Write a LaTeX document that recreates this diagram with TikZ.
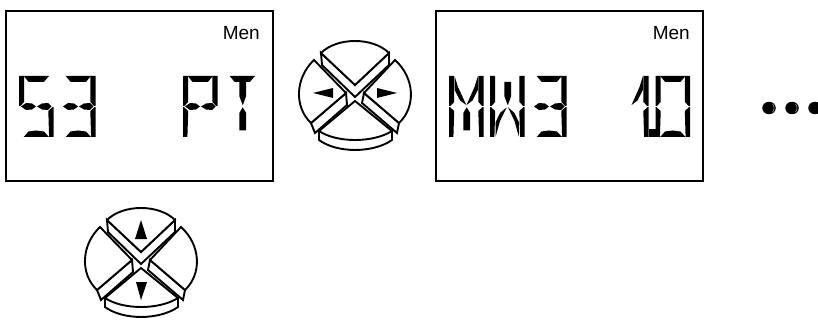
\documentclass[tikz,border=0pt]{standalone}
\usepackage{fontspec}
\usetikzlibrary{shapes.geometric}
\setmainfont{Liberation Sans}

% LCD segments, in a cell 34.5 wide and 61 high
\newcommand{\segTop}{\fill (4.7,0) -- (30,0) -- (25,5.8) -- (9.5,5.8) -- cycle;}
\newcommand{\segUL}{\fill (0,0) -- (5.2,0) -- (5.2,26) -- (1.5,29.8) -- (0,29.8) -- cycle;}
\newcommand{\segUR}{\fill (34.5,0) -- (29.3,0) -- (29.3,26) -- (33,29.8) -- (34.5,29.8) -- cycle;}
\newcommand{\segLL}{\fill (0,31.2) -- (1,31.2) -- (5.2,35) -- (4.4,61) -- (0,61) -- cycle;}
\newcommand{\segLR}{\fill (34.5,31.2) -- (33.5,31.2) -- (29.3,35) -- (30.1,61) -- (34.5,61) -- cycle;}
\newcommand{\segBot}{\fill (4.7,61) -- (9.5,55.5) -- (17,54.5) -- (25,55.5) -- (30,61) -- cycle;}
\newcommand{\segML}{\fill (2,30.5) -- (7,27) -- (13,27.5) -- (17,30.5) -- (13,33.5) -- (7,34) -- cycle;}
\newcommand{\segMR}{\fill (18,30.5) -- (23,27.5) -- (29,27) -- (32.5,30.5) -- (29,34) -- (23,33.5) -- cycle;}
\newcommand{\segDA}{\fill (5.7,0.5) -- (9,11) -- (17.3,29) -- (11,24.5) -- (5.7,14) -- cycle;}
\newcommand{\segDB}{\fill (28.8,0.5) -- (25.5,11) -- (17.5,29) -- (23.5,24.5) -- (28.8,14) -- cycle;}
\newcommand{\segDC}{\fill (5.7,60.5) -- (10,45) -- (16.8,31.3) -- (10,37) -- (5.7,46) -- cycle;}
\newcommand{\segDD}{\fill (28.8,60.5) -- (24.5,45) -- (18,31.3) -- (24.5,37) -- (28.8,46) -- cycle;}
\newcommand{\segCU}{\fill (14.3,6) -- (21.2,6) -- (21.2,20) -- (17.9,29) -- (17.6,29) -- (14.3,20) -- cycle;}
\newcommand{\segCL}{\fill (17.7,31.3) -- (21.2,37) -- (21.2,54.5) -- (14.3,54.5) -- (14.3,37) -- cycle;}
\newcommand{\segDot}{\fill (34.5,53) -- (42.5,53) -- (42.5,61) -- (34.5,61) -- cycle;}
\newcommand{\lcdchar}[2]{\begin{scope}[shift={(#1,76)}]\foreach \seg in {#2}{\seg}\end{scope}}

\tikzset{
	lcdbox/.style={draw, line width=1.4pt, minimum width=267pt, minimum height=170pt, inner sep=0pt},
	menlabel/.style={font=\fontsize{19}{20}\selectfont, anchor=base east, inner sep=0pt},
	leddot/.style={ellipse, fill=black, minimum width=13.5pt, minimum height=12.5pt, inner sep=0pt},
	padline/.style={draw, fill=white, line width=1.9pt},
	padbutton/.pic={
		% bottom key
		\path[padline] (-36,34) -- (-36,43) .. controls (-18,56.3) and (18,56.3) .. (37,43) -- (37,34) -- cycle;
		\path[padline] (0,4) -- (-36,34) .. controls (-18,46) and (18,46) .. (37,34) -- cycle;
		% left key
		\path[padline] (-44,26) -- (-40,36) -- (-8,8) -- (-9,-4) -- cycle;
		\path[padline] (-9,-4) -- (-41,-37) .. controls (-60,-19) and (-61,10) .. (-44,26) -- cycle;
		% right key
		\path[padline] (44,26) -- (42,36) -- (7,6) -- (9,-4) -- cycle;
		\path[padline] (9,-4) -- (40,-37) .. controls (60,-19) and (61,10) .. (44,26) -- cycle;
		% top key
		\path[padline] (-34,-44) -- (-33,-32) -- (0,0) -- (34,-32) -- (34,-44) -- (0,-12) -- cycle;
		\path[padline] (0,-12) -- (-34,-44) .. controls (-18,-60) and (18,-60) .. (34,-44) -- cycle;
	}
}

\begin{document}
\begin{tikzpicture}[x=1pt, y=-1pt]
	\useasboundingbox (0,0) rectangle (818,320);

	% displays
	\node[lcdbox] (boxa) at (139.5,96) {};
	\node[lcdbox] (boxb) at (569.5,96) {};
	\node[menlabel] (mena) at (260,39.5) {Men};
	\node[menlabel] (menb) at (690,39.5) {Men};

	% 53 PT
	\lcdchar{19}{\segTop,\segUL,\segML,\segMR,\segLR,\segBot}
	\lcdchar{61}{\segTop,\segUR,\segML,\segMR,\segLR,\segBot}
	\lcdchar{183}{\segTop,\segUL,\segUR,\segML,\segMR,\segLL}
	\lcdchar{225}{\segTop,\segCU,\segCL}

	% MW3 10
	\lcdchar{449}{\segUL,\segUR,\segLL,\segLR,\segDA,\segDB,\segCL}
	\lcdchar{490}{\segUL,\segUR,\segLL,\segLR,\segCU,\segDC,\segDD}
	\lcdchar{532}{\segTop,\segUR,\segML,\segMR,\segLR,\segBot}
	\lcdchar{614}{\segUR,\segLR,\segDB,\segDot}
	\lcdchar{655.5}{\segTop,\segUL,\segUR,\segLL,\segLR,\segBot}

	% keypads
	\pic (padh) at (355,97) {padbutton};
	\pic (padv) at (141,264) {padbutton};
	\fill (313,93) -- (333,88) -- (333,98) -- cycle;
	\fill (397,93) -- (377,88) -- (377,98) -- cycle;
	\fill (141,220) -- (135,239) -- (147,239) -- cycle;
	\fill (136,282) -- (147,282) -- (141,300) -- cycle;

	% more screens follow
	\node[leddot] (dota) at (769,108) {};
	\node[leddot] (dotb) at (792,108) {};
	\node[leddot] (dotc) at (815,108) {};
	\foreach \dotname in {dota,dotb,dotc}
		\draw[white!70!black, line width=0.5pt] ([shift={(3.5,-4)}]\dotname.center) .. controls ([shift={(5.5,-2)}]\dotname.center) and ([shift={(5.5,2)}]\dotname.center) .. ([shift={(3.5,4)}]\dotname.center);
\end{tikzpicture}
\end{document}
